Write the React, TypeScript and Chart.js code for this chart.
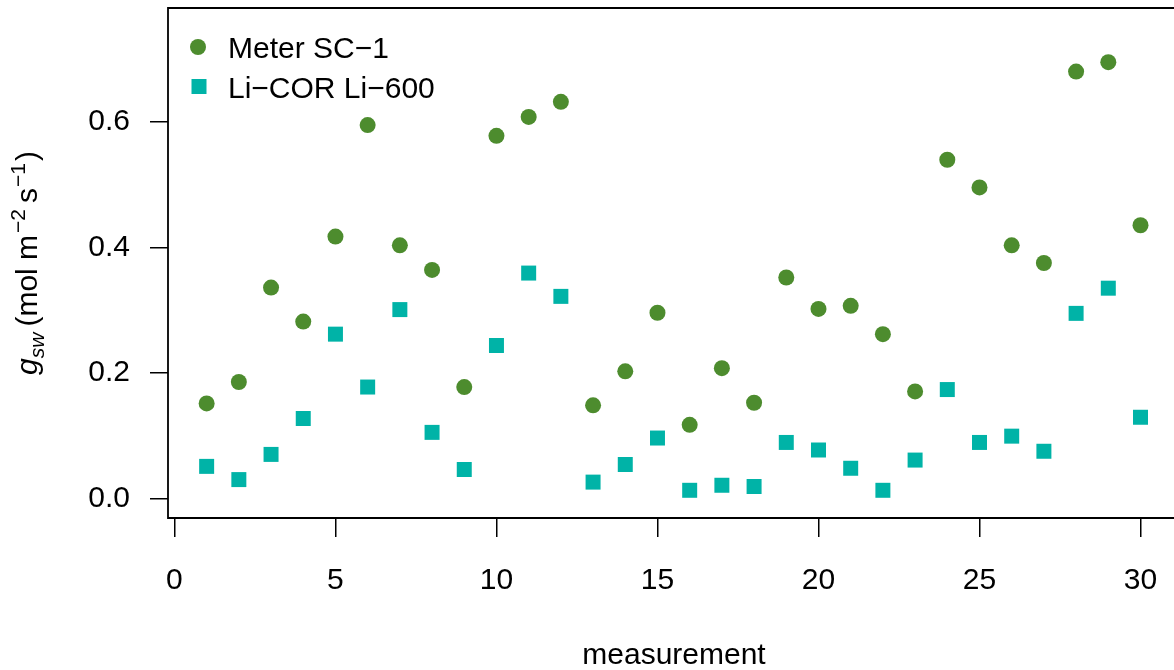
import React, { useEffect, useRef } from "react";
import { Chart, registerables } from "chart.js";

Chart.register(...registerables);

const MEASUREMENT = [1, 2, 3, 4, 5, 6, 7, 8, 9, 10, 11, 12, 13, 14, 15, 16, 17, 18, 19, 20, 21, 22, 23, 24, 25, 26, 27, 28, 29, 30];
const METER_SC1 = [0.152, 0.186, 0.336, 0.282, 0.417, 0.594, 0.403, 0.364, 0.178, 0.577, 0.607, 0.631, 0.149, 0.203, 0.296, 0.118, 0.208, 0.153, 0.352, 0.302, 0.307, 0.262, 0.171, 0.539, 0.495, 0.403, 0.375, 0.679, 0.694, 0.435];
const LICOR_LI600 = [0.052, 0.031, 0.071, 0.128, 0.262, 0.178, 0.301, 0.106, 0.047, 0.244, 0.359, 0.322, 0.027, 0.055, 0.097, 0.014, 0.022, 0.020, 0.090, 0.078, 0.049, 0.014, 0.062, 0.174, 0.090, 0.100, 0.076, 0.295, 0.335, 0.130];
const X_TICKS = [0, 5, 10, 15, 20, 25, 30];
const Y_TICKS = [0, 0.2, 0.4, 0.6];
const SERIES_NAMES = ["Meter SC\u22121", "Li\u2212COR Li\u2212600"];
const X_TITLE = "measurement";

const GREEN = "#4D8C2E";
const TEAL = "#00B3A7";
const FONT = '"Liberation Sans", Arial, Helvetica, sans-serif';

const decorPlugin = {
  id: "decor",
  afterDraw(chart: any) {
    const { ctx, chartArea: a } = chart;
    ctx.save();
    // box (right side lies outside the picture)
    ctx.strokeStyle = "#000";
    ctx.lineWidth = 1.8;
    ctx.beginPath();
    ctx.moveTo(a.right + 4, a.top);
    ctx.lineTo(a.left, a.top);
    ctx.lineTo(a.left, a.bottom);
    ctx.lineTo(a.right + 4, a.bottom);
    ctx.stroke();

    // legend
    const lx = a.left + 30;
    const ly = a.top + 39;
    const gap = 39.5;
    ctx.fillStyle = GREEN;
    ctx.beginPath();
    ctx.arc(lx, ly, 8, 0, Math.PI * 2);
    ctx.fill();
    ctx.fillStyle = TEAL;
    ctx.fillRect(lx - 7.5 + 1, ly + gap - 7.5, 15, 15);
    ctx.fillStyle = "#000";
    ctx.font = `30px ${FONT}`;
    ctx.textAlign = "left";
    ctx.textBaseline = "alphabetic";
    ctx.fillText(SERIES_NAMES[0], a.left + 60, ly + 11);
    ctx.fillText(SERIES_NAMES[1], a.left + 60, ly + gap + 11);

    // x title
    ctx.textAlign = "center";
    ctx.fillText(X_TITLE, (a.left + a.right) / 2 + 3, a.bottom + 146);

    // y title: g_sw (mol m^-2 s^-1)
    const big = `30px ${FONT}`;
    const bigIt = `italic 30px ${FONT}`;
    const small = `21px ${FONT}`;
    const smallIt = `italic 21px ${FONT}`;
    const parts: [string, string, number, number][] = [
      ["g", bigIt, 0, 0],
      ["sw", smallIt, 7, 0],
      ["(", big, 0, 6],
      ["mol m", big, 0, 0],
      ["\u22122", small, -12, 2],
      ["s", big, 0, 6],
      ["\u22121", small, -12, 1],
      [")", big, 0, 2],
    ];
    let total = 0;
    const widths: number[] = [];
    for (const [t, f, , pre] of parts) {
      ctx.font = f;
      const w = ctx.measureText(t).width;
      widths.push(w);
      total += w + pre;
    }
    ctx.translate(a.left - 131, (a.top + a.bottom) / 2);
    ctx.rotate(-Math.PI / 2);
    ctx.textAlign = "left";
    let x = -total / 2;
    parts.forEach(([t, f, dy, pre], i) => {
      x += pre;
      ctx.font = f;
      ctx.fillText(t, x, dy);
      x += widths[i];
    });
    ctx.restore();
  },
};

export default function App() {
  const ref = useRef<HTMLCanvasElement | null>(null);
  useEffect(() => {
    if (!ref.current) return;
    const chart = new Chart(ref.current, {
      type: "scatter",
      data: {
        datasets: [
          {
            label: SERIES_NAMES[0],
            data: MEASUREMENT.map((m, i) => ({ x: m, y: METER_SC1[i] })),
            pointStyle: "circle",
            pointRadius: 8,
            pointBackgroundColor: GREEN,
            pointBorderWidth: 0,
          },
          {
            label: SERIES_NAMES[1],
            data: MEASUREMENT.map((m, i) => ({ x: m, y: LICOR_LI600[i] })),
            pointStyle: "rect",
            pointRadius: 10.6,
            pointBackgroundColor: TEAL,
            pointBorderWidth: 0,
          },
        ],
      },
      options: {
        responsive: false,
        animation: false,
        events: [],
        layout: { autoPadding: false, padding: { top: 8, left: 0, right: 0, bottom: 0 } },
        plugins: { legend: { display: false }, tooltip: { enabled: false } },
        scales: {
          x: {
            type: "linear",
            min: -0.2,
            max: 31.04,
            grid: { drawOnChartArea: false, drawTicks: true, tickLength: 19, color: "#000", lineWidth: 1.5 },
            border: { display: false },
            ticks: {
              color: "#000",
              font: { family: FONT, size: 30 },
              padding: 26,
              maxRotation: 0,
              autoSkip: false,
              callback: (v: any) => String(v),
            },
            afterBuildTicks: (s: any) => {
              s.ticks = X_TICKS.map((v) => ({ value: v }));
            },
            afterFit: (s: any) => {
              s.height = 152;
              s.paddingLeft = 0;
              s.paddingRight = 0;
              s.paddingTop = 0;
              s.paddingBottom = 0;
            },
          },
          y: {
            type: "linear",
            min: -0.03,
            max: 0.78,
            grid: { drawOnChartArea: false, drawTicks: true, tickLength: 18, color: "#000", lineWidth: 1.5 },
            border: { display: false },
            ticks: {
              color: "#000",
              font: { family: FONT, size: 30 },
              padding: 20,
              autoSkip: false,
              callback: (v: any) => Number(v).toFixed(1),
            },
            afterBuildTicks: (s: any) => {
              s.ticks = Y_TICKS.map((v) => ({ value: v }));
            },
            afterFit: (s: any) => {
              s.width = 168;
              s.paddingLeft = 0;
              s.paddingRight = 0;
              s.paddingTop = 0;
              s.paddingBottom = 0;
            },
          },
        },
      },
      plugins: [decorPlugin],
    });
    return () => chart.destroy();
  }, []);
  return (
    <canvas
      ref={ref}
      width={1174}
      height={670}
      style={{ position: "absolute", left: 0, top: 0, display: "block" }}
    />
  );
}
